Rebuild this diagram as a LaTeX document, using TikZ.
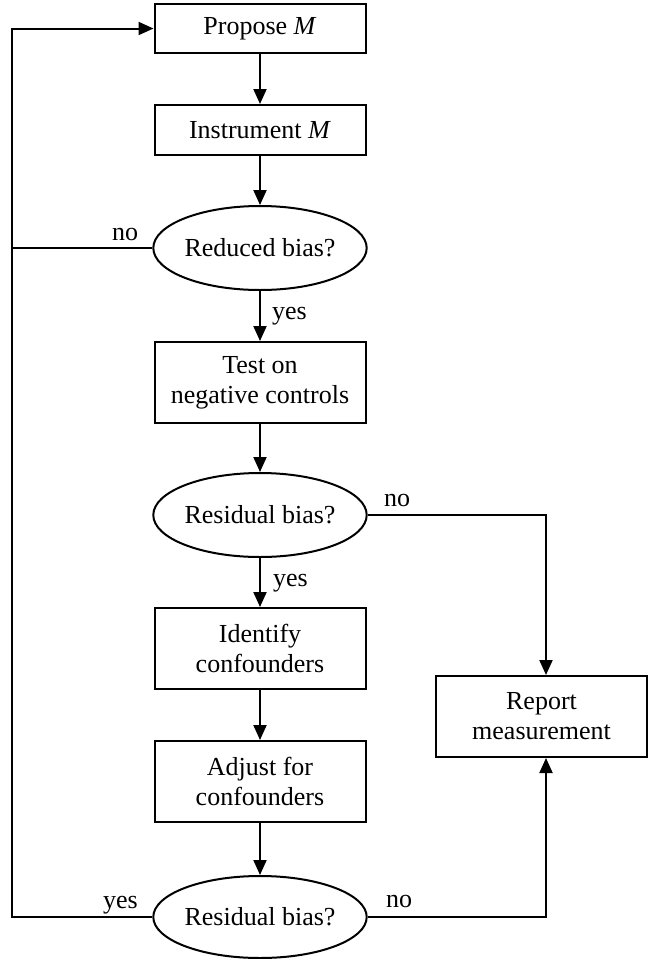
\documentclass[tikz,border=0pt]{standalone}
\usepackage{fontspec}
\setmainfont{Liberation Serif}
\usetikzlibrary{shapes.geometric,arrows.meta,calc}
\begin{document}
\begin{tikzpicture}[x=1pt,y=-1pt,
  font=\fontsize{26}{30}\selectfont,
  line width=2pt,
  stepbox/.style={draw, rectangle, minimum width=211pt, align=center, inner sep=0pt},
  query/.style={draw, ellipse, minimum width=212pt, minimum height=84pt, inner sep=0pt},
  arr/.style={-{Triangle[length=15pt,width=13pt]}},
  lbl/.style={anchor=base west, inner sep=0pt}]

% page frame
\fill[white] (0,0) rectangle (650,959);
\useasboundingbox (0,0) rectangle (650,959);

% main column
\node[stepbox, minimum height=49pt] (prop)  at (260,28.5)  {Propose \textit{M}};
\node[stepbox, minimum height=50pt] (inst)  at (260,130)   {Instrument \textit{M}};
\node[query]                        (rb1)   at (260,248)   {Reduced bias?};
\node[stepbox, minimum height=81pt] (test)  at (260,382.5) {Test on\\negative controls};
\node[query]                        (rb2)   at (260,515)   {Residual bias?};
\node[stepbox, minimum height=81pt] (ident) at (260,648.5) {Identify\\confounders};
\node[stepbox, minimum height=81pt] (adj)   at (260,781.5) {Adjust for\\confounders};
\node[query, minimum height=82pt]   (rb3)   at (260,917)   {Residual bias?};

% exit box
\node[stepbox, minimum height=81pt] (rep)   at (541.5,716.5) {Report\\measurement};

% return path on the left
\coordinate (lft) at (12,28.5);

% vertical flow
\draw[arr] (prop) -- (inst);
\draw[arr] (inst) -- (rb1);
\draw[arr] (rb1) -- (test);
\draw[arr] (test) -- (rb2);
\draw[arr] (rb2) -- (ident);
\draw[arr] (ident) -- (adj);
\draw[arr] (adj) -- (rb3);

% loops back to the proposal
\draw[arr] (rb3.west) -| (lft) -- (prop.west);
\draw (rb1.west) -- (rb1.west -| lft);

% branches to the report
\draw[arr] (rb2.east) -| ([xshift=4.5pt]rep.north);
\draw[arr] (rb3.east) -| ([xshift=4.5pt]rep.south);

% branch labels
\node[lbl] (l1) at (111,240) {no};
\node[lbl] (l2) at (271,319) {yes};
\node[lbl] (l3) at (383,506) {no};
\node[lbl] (l4) at (272,586) {yes};
\node[lbl] (l5) at (102,908) {yes};
\node[lbl] (l6) at (385,907) {no};
\end{tikzpicture}
\end{document}
